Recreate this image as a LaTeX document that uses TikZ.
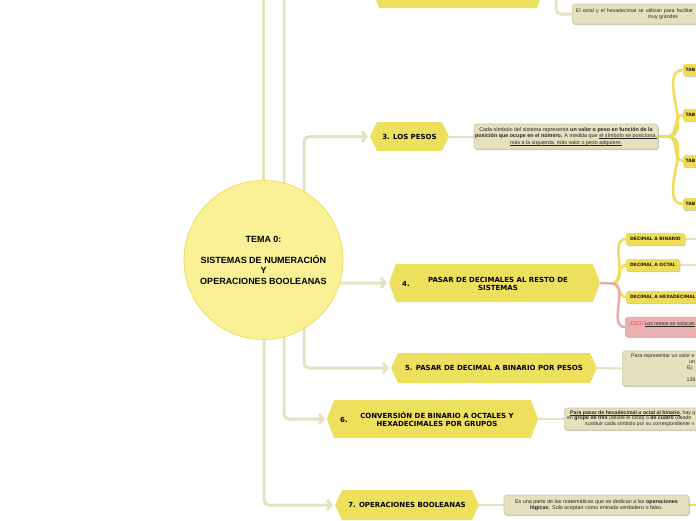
\documentclass[tikz,border=0pt]{standalone}
\usepackage{fontspec}
\setmainfont{Liberation Sans}
\newfontfamily\hexfont{DejaVu Sans}
\usetikzlibrary{calc,arrows.meta,backgrounds,shadows}
\definecolor{connc}{HTML}{E5E2C0}
\definecolor{hexfill}{HTML}{EDE05C}
\definecolor{circfill}{HTML}{FAF196}
\definecolor{circdraw}{HTML}{EEDC5E}
\definecolor{tboxfill}{HTML}{E4E1BF}
\definecolor{tboxdraw}{HTML}{CBC7A0}
\definecolor{yfill}{HTML}{EEDD55}
\definecolor{ybranchc}{HTML}{EEDD55}
\definecolor{pinkfill}{HTML}{EBB1B1}
\definecolor{pinkdraw}{HTML}{DFA0A0}
\definecolor{pinkline}{HTML}{ECAAAA}
\definecolor{ojo}{HTML}{E8305A}
\newcommand\ulx[1]{\setbox0\hbox{#1}\rlap{\rule[-0.9pt]{\wd0}{0.35pt}}\box0}
\tikzset{
  connline/.style={draw=connc, line width=3pt, rounded corners=5pt},
  arrowline/.style={connline, shorten >=2pt, -{Straight Barb[length=4pt,width=10pt]}},
  thinconn/.style={draw=connc, line width=2pt},
  ybranch/.style={draw=ybranchc, line width=2.5pt},
  pbranch/.style={draw=pinkline, line width=2.5pt},
  hexpath/.style={fill=hexfill},
  hexbox/.style={inner sep=0pt, outer sep=0pt, align=center, text=black,
    font=\hexfont\bfseries\fontsize{7}{8}\selectfont},
  hexnum/.style={inner sep=0pt, text=black, font=\hexfont\bfseries\fontsize{7}{8}\selectfont},
  shad/.style={drop shadow={shadow xshift=0.8pt, shadow yshift=-1.2pt, opacity=0.3, fill=black!70}},
  tbox/.style={draw=tboxdraw, fill=tboxfill, rounded corners=3pt, line width=0.6pt, shad,
    inner sep=0pt, align=center, text=black!85, font=\fontsize{5.4}{6.6}\selectfont},
  btext/.style={inner sep=0pt, text=black!85, font=\fontsize{5.2}{6}\selectfont},
  ynode/.style={fill=yfill, rounded corners=2pt, shad, anchor=west, inner xsep=4pt,
    inner ysep=0pt, minimum height=12pt, text=black!90, font=\hexfont\bfseries\fontsize{4.5}{5}\selectfont},
  tabnode/.style={ynode, inner xsep=2.5pt, text width=30pt, align=left},
  pnode/.style={fill=pinkfill, draw=pinkdraw, line width=0.5pt, rounded corners=3pt, shad, anchor=west,
    inner sep=0pt, minimum height=20pt, minimum width=120pt},
}
\newcommand\HexNode[6]{%
  \fill[hexpath] (#2,{(#3+#5)/2}) -- (#2+7,#3) -- (#4-7,#3) -- (#4,{(#3+#5)/2})
     -- (#4-7,#5) -- (#2+7,#5) -- cycle;
  \node[hexbox, minimum width=#4-#2, minimum height=#5-#3] (#1) at ({(#2+#4)/2},{(#3+#5)/2}) {#6};}
\begin{document}
\begin{tikzpicture}[x=1pt,y=-1pt]
\useasboundingbox (0,0) rectangle (696,520);

% central circle
\node[circle, fill=circfill, draw=circdraw, line width=0.8pt, minimum size=159pt, inner sep=0pt,
  align=center, font=\bfseries\fontsize{9}{10.5}\selectfont] (root) at (263.5,260)
  {TEMA 0:\\[10.5pt]SISTEMAS DE NUMERACIÓN\\Y\\OPERACIONES BOOLEANAS};

% hexagons
\HexNode{N2}{372}{-32}{544}{8}{}
\HexNode{n3}{370}{122}{449}{151}{3. LOS PESOS}
\HexNode{n4}{389}{264}{600}{302}{}
\node[hexbox] (n4t) at (498,283.5) {PASAR DE DECIMALES AL RESTO DE\\SISTEMAS};
\node[hexnum] (n4num) at (406,283.5) {4.};
\HexNode{n5}{391}{353}{597}{383}{5. PASAR DE DECIMAL A BINARIO POR PESOS}
\HexNode{n6}{327}{400}{538}{438}{}
\node[hexbox] (n6t) at (437,419.5) {CONVERSIÓN DE BINARIO A OCTALES Y\\HEXADECIMALES POR GRUPOS};
\node[hexnum] (n6num) at (344,420) {6.};
\HexNode{n7}{335}{490}{479}{520}{7. OPERACIONES BOOLEANAS}

% text boxes
\node[tbox, minimum width=188pt, minimum height=20pt, anchor=west] (B1) at (572,14) {};
\node[btext, anchor=west] (B1a) at (576,11) {\makebox[117pt][s]{El octal y el hexadecimal se utilizan para facilitar}};
\node[btext] (B1b) at (663,17.5) {muy grandes};

\node[tbox, minimum width=184pt, minimum height=25pt] (B3) at (566,136.5)
  {Cada símbolo del sistema representa \textbf{un valor o peso en función de la}\\
   \textbf{posición que ocupe en el número.} A medida que \ulx{el símbolo se posiciona,}\\
   \ulx{más a la izquierda, más valor o peso adquiere.}};

\node[tbox, minimum width=170pt, minimum height=35pt, anchor=west] (B5) at (622,368.5) {};
\node[btext, anchor=west] (B5a) at (631,356) {Para representar un valor e};
\node[btext, anchor=west] (B5b) at (689,362) {un};
\node[btext, anchor=west] (B5c) at (687,368) {Ej:};
\node[btext, anchor=west] (B5d) at (686.5,380) {128};

\node[tbox, minimum width=200pt, minimum height=22pt, anchor=west] (B6) at (564,419) {};
\node[btext, anchor=west] (B6a) at (570,413) {\ulx{\textbf{Para pasar de hexadecimal u octal al binario}}, hay q};
\node[btext, anchor=west] (B6b) at (567,418.5) {en \textbf{grupo de tres} (desde el octal) o \textbf{de cuatro} (desde};
\node[btext, anchor=west] (B6c) at (585,424) {sustituir cada símbolo por su correspondiente v};

\node[tbox, minimum width=185pt, minimum height=20pt] (B7) at (596.5,505)
  {Es una parte de las matemáticas que se dedican a las \textbf{operaciones}\\
   \textbf{lógicas}. Solo aceptan como entrada verdadero o falso.};

% TAB nodes
\node[tabnode] (T1) at (683,70) {TAB};
\node[tabnode] (T2) at (683,115) {TAB};
\node[tabnode] (T3) at (683,161) {TAB};
\node[tabnode] (T4) at (683,204) {TAB};

% decimal sub-nodes
\node[ynode] (d1) at (626,239) {DECIMAL A BINARIO};
\node[ynode] (d2) at (626,265) {DECIMAL A OCTAL};
\node[ynode] (d3) at (626,297) {DECIMAL A HEXADECIMAL};
\node[pnode] (pk) at (625,327) {};
\node[btext, anchor=west] (pkt) at (629,324) {\textcolor{ojo}{¡OJO!} \ulx{Los restos se colocan}};

% helper coordinates
\coordinate (t1) at (263.5,-20);
\coordinate (f3) at (668,136.5);
\coordinate (f4) at (612,283.5);
\coordinate (d1r) at (700,239);
\coordinate (d2r) at (700,265);
\coordinate (b7r) at (700,505);

\begin{pgfonlayer}{background}
  \draw[connline] (root.center) -- (t1);
  \draw[connline] ($(root.center)+(20.5,0)$) |- (N2.west);
  \draw[arrowline] ($(root.center)+(40.5,0)$) |- (n3.west);
  \draw[arrowline] ($(root.center)+(40.5,0)$) |- (n5.west);
  \draw[arrowline] ($(root.center)+(0,23.5)$) -- (n4.west);
  \draw[arrowline] ($(root.center)+(20.5,0)$) |- (n6.west);
  \draw[arrowline] ($(root.center)+(0.5,0)$) |- (n7.west);
  \draw[connline] (N2.east) -- ++(12,0) |- (B1.west);
  \draw[thinconn] (n3.east) -- (B3.west);
  \draw[thinconn] (n5.east) -- (B5.west);
  \draw[thinconn] (n6.east) -- (B6.west);
  \draw[thinconn] (n7.east) -- (B7.west);
  \draw[thinconn] (d1.east) -- (d1r);
  \draw[thinconn] (d2.east) -- (d2r);
  \draw[ybranch] (B7.east) -- (b7r);
  \draw[ybranch] (B3.east) -- (f3);
  \foreach \t in {T1,T2,T3,T4} \draw[ybranch] (f3) to[out=0,in=180] (\t.west);
  \foreach \t in {d1,d2,d3} \draw[ybranch] (f4) to[out=0,in=180] (\t.west);
  \draw[pbranch] (n4.east) -- (f4) to[out=0,in=180] (pk.west);
\end{pgfonlayer}
\end{tikzpicture}
\end{document}
